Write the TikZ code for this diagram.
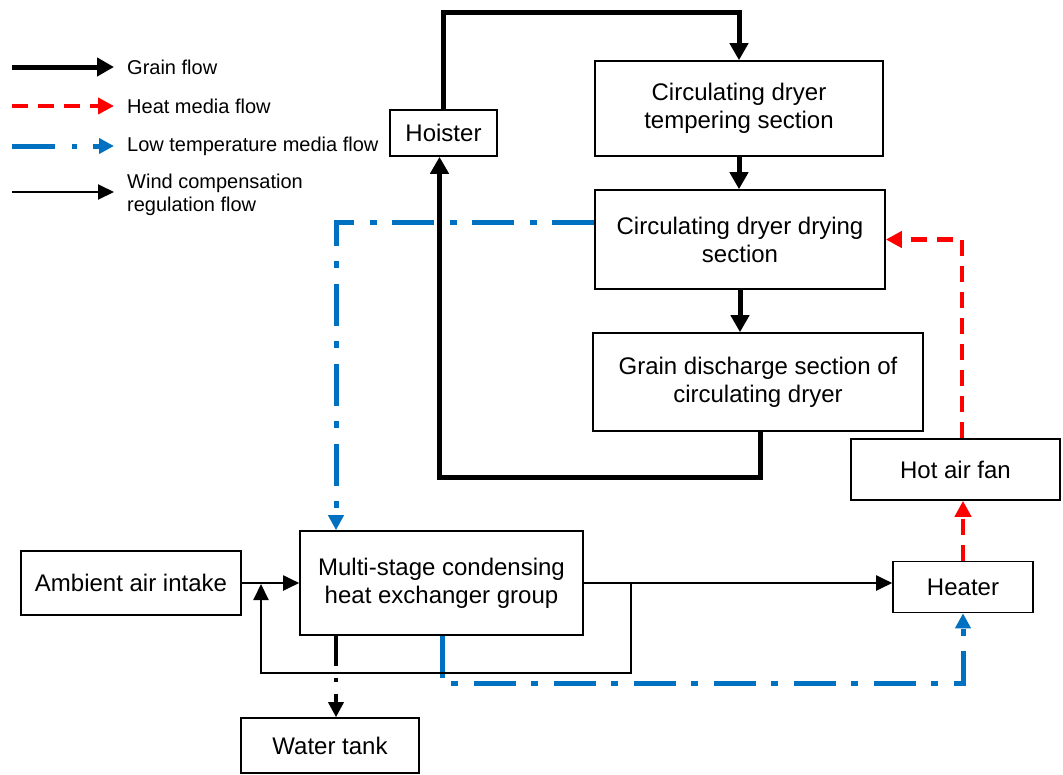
\documentclass[tikz,border=0pt]{standalone}
\usepackage{fontspec}
\setmainfont{Liberation Sans}
\usetikzlibrary{arrows.meta}
\definecolor{heatred}{HTML}{FF0000}
\definecolor{lowblue}{HTML}{0070C0}
\tikzset{
  box/.style={draw, line width=1.6pt, align=center, inner sep=0pt, font=\fontsize{24}{28}\selectfont},
  grain/.style={line width=5pt, -{Triangle[length=17pt,width=18pt]}},
  heat/.style={heatred, line width=4.5pt, dash pattern=on 16pt off 10pt, -{Triangle[length=16pt,width=16pt]}},
  low/.style={lowblue, line width=5pt, dash pattern=on 42pt off 15pt on 7pt off 16pt, -{Triangle[length=15pt,width=15pt]}},
  wind/.style={line width=2pt, -{Triangle[length=16pt,width=15pt]}},
  water/.style={line width=3.5pt, dash pattern=on 30pt off 12pt on 4pt off 12pt, -{Triangle[length=15pt,width=15pt]}},
  legtext/.style={anchor=west, align=left, inner sep=0pt, font=\fontsize{20}{23}\selectfont}
}
\begin{document}
\begin{tikzpicture}[x=1pt,y=-1pt]
\useasboundingbox (0,0) rectangle (1063,774);
% nodes
\node[box, minimum width=107pt, minimum height=46pt] (hoister) at (443.5,133) {Hoister};
\node[box, minimum width=288pt, minimum height=95pt] (temper) at (739,108.5) {Circulating dryer\\tempering section};
\node[box, minimum width=290pt, minimum height=99pt] (drying) at (740,239.5) {Circulating dryer drying\\section};
\node[box, minimum width=330pt, minimum height=98pt] (discharge) at (758,382) {Grain discharge section of\\circulating dryer};
\node[box, minimum width=209pt, minimum height=61pt] (fan) at (955.5,469.5) {Hot air fan};
\node[box, minimum width=140pt, minimum height=51pt] (heater) at (963,587) {Heater};
\node[box, minimum width=283pt, minimum height=104pt] (multi) at (441.5,583) {Multi-stage condensing\\heat exchanger group};
\node[box, minimum width=220pt, minimum height=64pt] (ambient) at (131,583) {Ambient air intake};
\node[box, minimum width=178pt, minimum height=55pt] (water) at (330,745.5) {Water tank};
% grain flow
\draw[grain] (hoister.north) -- ++(0,-97) -| (temper.north);
\draw[grain] (temper.south) -- (temper.south |- drying.north);
\draw[grain] (drying.south) -- (drying.south |- discharge.north);
\draw[grain] ([xshift=2pt]discharge.south) -- ++(0,46) -| ([xshift=-4pt]hoister.south);
% heat media flow
\draw[heat] ([xshift=6.5pt]fan.north) |- (drying.east);
\draw[heat] (heater.north) -- (heater.north |- fan.south);
% low temperature media flow
\draw[low] ([yshift=17.5pt]drying.west) -| ([xshift=-105.5pt]multi.north);
\draw[low] ([xshift=0.5pt]multi.south) -- ++(0,48) -| (heater.south);
% wind compensation regulation flow
\draw[wind] (ambient.east) -- (multi.west);
\draw[wind] (multi.east) -- (multi.east -| heater.west);
\coordinate (fbA) at (631,584);
\coordinate (fbB) at (261,584);
\draw[wind] (fbA) -- ++(0,89) -| (fbB);
% water
\draw[water] ([xshift=-105.5pt]multi.south) -- ([xshift=-105.5pt]multi.south |- water.north);
% legend
\coordinate (g1) at (12,67);  \coordinate (g2) at (114,67);
\coordinate (h1) at (12,106); \coordinate (h2) at (114,106);
\coordinate (b1) at (12,146); \coordinate (b2) at (114,146);
\coordinate (w1) at (12,192); \coordinate (w2) at (114,192);
\draw[grain] (g1) -- (g2);
\draw[heat] (h1) -- (h2);
\draw[low, dash pattern=on 43pt off 17pt on 5pt off 16pt] (b1) -- (b2);
\draw[wind] (w1) -- (w2);
\node[legtext] (lg) at (127,67) {Grain flow};
\node[legtext] (lh) at (127,106) {Heat media flow};
\node[legtext] (lb) at (127,146) {Low temperature media flow};
\node[legtext] (lw) at (127,195) {Wind compensation\\regulation flow};
\end{tikzpicture}
\end{document}
